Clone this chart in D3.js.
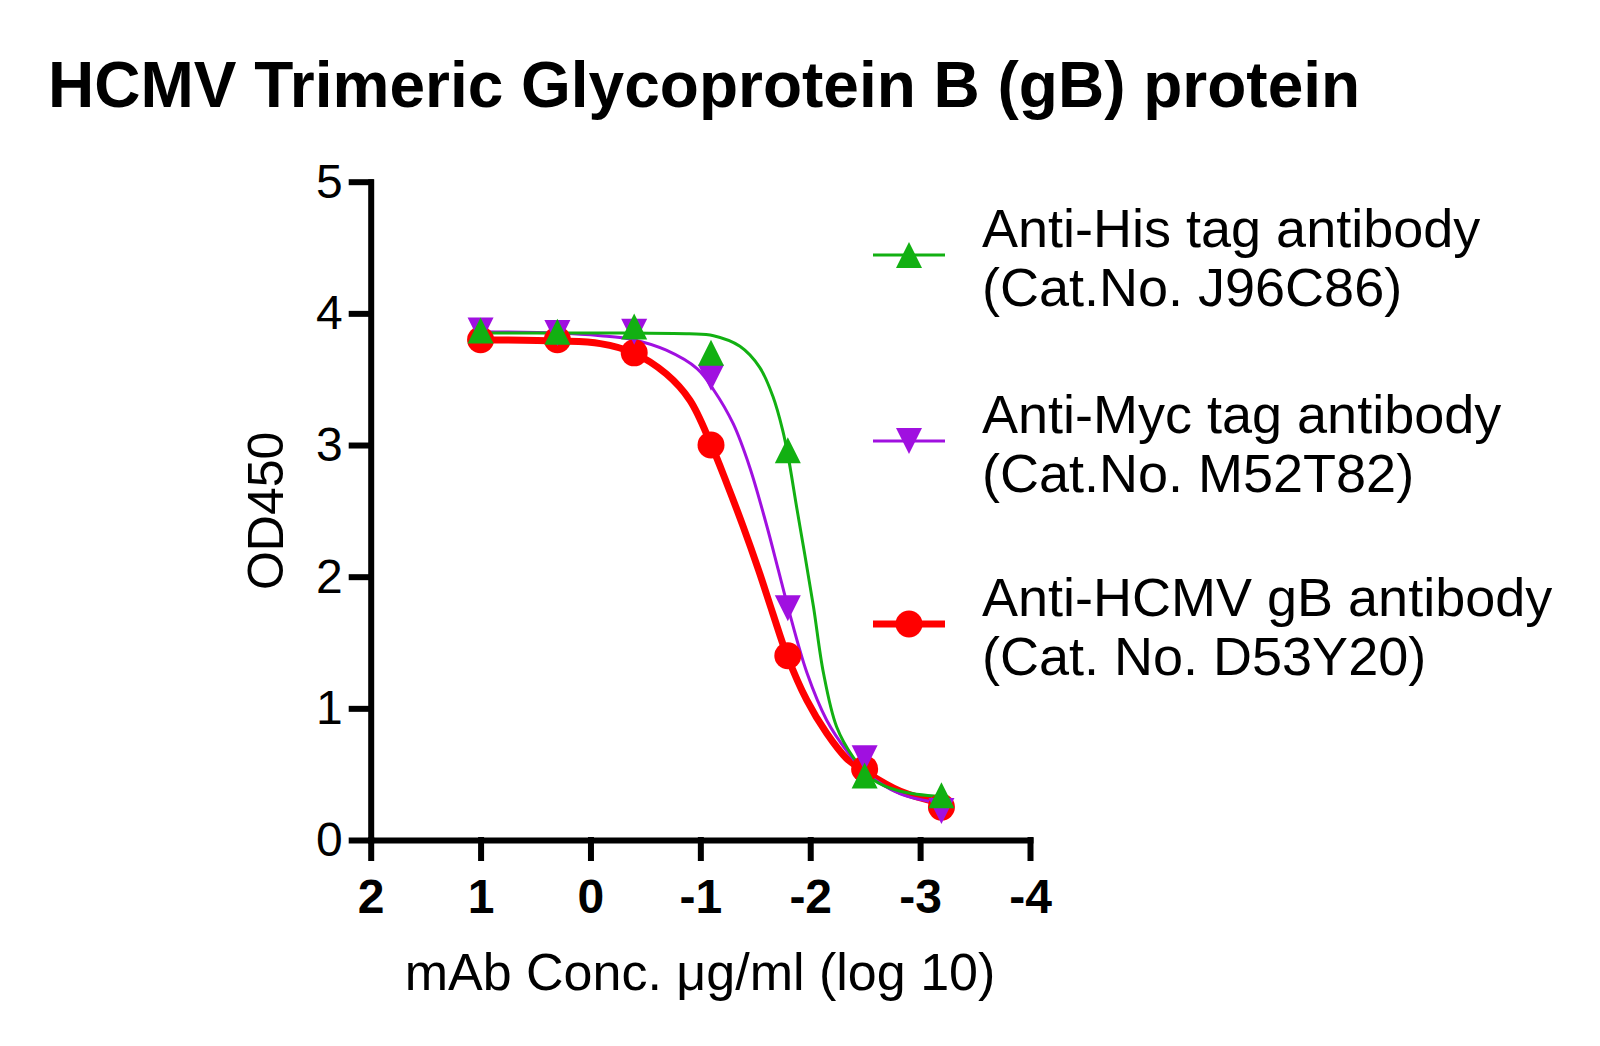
<!DOCTYPE html>
<html>
<head>
<meta charset="utf-8">
<script src="https://cdn.jsdelivr.net/npm/d3@7"></script>
<style>
  html, body { margin: 0; padding: 0; background: #fff; }
  svg { display: block; font-family: "Liberation Sans", Arial, sans-serif; }
</style>
</head>
<body>
<svg id="chart" width="1600" height="1046"></svg>
<script>
// log10 of mAb concentration (10 ug/ml, 5-fold dilutions)
const logConc = [1, 0.301, -0.398, -1.097, -1.796, -2.495, -3.194];

// measured OD450
const hisOD = [3.87, 3.86, 3.90, 3.70, 2.96, 0.49, 0.34];
const mycOD = [3.87, 3.85, 3.86, 3.51, 1.76, 0.62, 0.22];
const gbOD  = [3.80, 3.80, 3.70, 3.00, 1.40, 0.54, 0.25];

// fitted curves as [log conc, OD]
const hisFit = [[1, 3.85], [0.3, 3.85], [-0.4, 3.85], [-0.9, 3.845], [-1.12, 3.83], [-1.36, 3.75],
  [-1.54, 3.59], [-1.66, 3.37], [-1.75, 3.11], [-1.80, 2.91], [-1.88, 2.51], [-1.95, 2.17],
  [-2.03, 1.77], [-2.12, 1.27], [-2.24, 0.86], [-2.39, 0.63], [-2.57, 0.46], [-2.82, 0.37], [-3.19, 0.33]];
const mycFit = [[1, 3.86], [0.3, 3.85], [-0.09, 3.83], [-0.39, 3.80], [-0.69, 3.72], [-0.97, 3.58],
  [-1.12, 3.42], [-1.30, 3.16], [-1.45, 2.83], [-1.60, 2.40], [-1.71, 2.05], [-1.80, 1.76],
  [-1.97, 1.27], [-2.15, 0.91], [-2.33, 0.68], [-2.51, 0.51], [-2.82, 0.35], [-3.19, 0.28]];
const gbFit = [[1, 3.80], [0.3, 3.79], [-0.09, 3.77], [-0.39, 3.70], [-0.69, 3.54], [-0.905, 3.34],
  [-1.10, 3.00], [-1.24, 2.71], [-1.39, 2.38], [-1.53, 2.05], [-1.66, 1.72], [-1.79, 1.40],
  [-1.97, 1.06], [-2.15, 0.81], [-2.33, 0.62], [-2.50, 0.52], [-2.82, 0.37], [-3.19, 0.28]];

const xTicks = [2, 1, 0, -1, -2, -3, -4];
const yTicks = [0, 1, 2, 3, 4, 5];

const seriesNames = ['Anti-His tag antibody', 'Anti-Myc tag antibody', 'Anti-HCMV gB antibody'];
const catNos = ['(Cat.No. J96C86)', '(Cat.No. M52T82)', '(Cat. No. D53Y20)'];

const svg = d3.select('#chart');

// Scales
const xScale = d3.scaleLinear().domain([2, -4]).range([370.7, 1030]);
const yScale = d3.scaleLinear().domain([0, 5]).range([840, 181.7]);

// Title
svg.append('text')
  .attr('x', 48)
  .attr('y', 107)
  .attr('font-size', 64)
  .attr('font-weight', 'bold')
  .text('HCMV Trimeric Glycoprotein B (gB) protein');

// Axes
const xAxis = d3.axisBottom(xScale)
  .tickValues(xTicks)
  .tickFormat(d => String(d))
  .tickSizeInner(18)
  .tickSizeOuter(0)
  .tickPadding(21);

const yAxis = d3.axisLeft(yScale)
  .tickValues(yTicks)
  .tickFormat(d => String(d))
  .tickSizeInner(19)
  .tickSizeOuter(0)
  .tickPadding(9);

const gx = svg.append('g')
  .attr('transform', `translate(0,${yScale(0)})`)
  .call(xAxis);
gx.selectAll('text')
  .attr('font-size', 48)
  .attr('font-weight', 'bold')
  .attr('font-family', '"Liberation Sans", Arial, sans-serif')
  .attr('fill', '#000');

const gy = svg.append('g')
  .attr('transform', `translate(${xScale(2)},0)`)
  .call(yAxis);
gy.selectAll('text')
  .attr('font-size', 48)
  .attr('font-family', '"Liberation Sans", Arial, sans-serif')
  .attr('fill', '#000');

svg.selectAll('.domain, .tick line')
  .attr('stroke', '#000')
  .attr('stroke-width', 6)
  .attr('stroke-linecap', 'square');

// Axis titles
svg.append('text')
  .attr('x', 700)
  .attr('y', 990)
  .attr('text-anchor', 'middle')
  .attr('font-size', 52)
  .text('mAb Conc. \u03BCg/ml (log 10)');

svg.append('text')
  .attr('transform', `translate(283,${(yScale(0) + yScale(5)) / 2}) rotate(-90)`)
  .attr('text-anchor', 'middle')
  .attr('font-size', 50)
  .text('OD450');

// Series (drawn bottom to top)
const series = [
  { name: seriesNames[2], cat: catNos[2], od: gbOD, fit: gbFit, color: '#ff0000', width: 7, shape: 'circle' },
  { name: seriesNames[1], cat: catNos[1], od: mycOD, fit: mycFit, color: '#a010e0', width: 3, shape: 'down' },
  { name: seriesNames[0], cat: catNos[0], od: hisOD, fit: hisFit, color: '#12b012', width: 3, shape: 'up' }
];

const line = d3.line()
  .x(d => xScale(d[0]))
  .y(d => yScale(d[1]))
  .curve(d3.curveCatmullRom.alpha(0.5));

const markerSize = 26;

function drawMarker(g, shape, color) {
  const h = markerSize / 2;
  if (shape === 'circle') {
    g.append('circle').attr('r', 13.5).attr('fill', color);
  } else if (shape === 'up') {
    g.append('path').attr('d', `M0,${-h}L${h},${h}L${-h},${h}Z`).attr('fill', color);
  } else {
    g.append('path').attr('d', `M0,${h}L${h},${-h}L${-h},${-h}Z`).attr('fill', color);
  }
}

series.forEach(s => {
  svg.append('path')
    .datum(s.fit)
    .attr('d', line)
    .attr('fill', 'none')
    .attr('stroke', s.color)
    .attr('stroke-width', s.width)
    .attr('stroke-linejoin', 'round');
});

series.forEach(s => {
  s.od.forEach((v, i) => {
    const g = svg.append('g')
      .attr('transform', `translate(${xScale(logConc[i])},${yScale(v)})`);
    drawMarker(g, s.shape, s.color);
  });
});

// Legend
const legendY = [255, 441, 624];
const legendOrder = [series[2], series[1], series[0]];

legendOrder.forEach((s, i) => {
  const y = legendY[i];
  const g = svg.append('g');
  g.append('line')
    .attr('x1', 873).attr('x2', 945)
    .attr('y1', y).attr('y2', y)
    .attr('stroke', s.color)
    .attr('stroke-width', s.width);
  const m = g.append('g').attr('transform', `translate(909,${y})`);
  drawMarker(m, s.shape, s.color);

  g.append('text')
    .attr('x', 982)
    .attr('y', y - 8)
    .attr('font-size', 54)
    .text(s.name);
  g.append('text')
    .attr('x', 982)
    .attr('y', y + 51)
    .attr('font-size', 54)
    .text(s.cat);
});
</script>
</body>
</html>
